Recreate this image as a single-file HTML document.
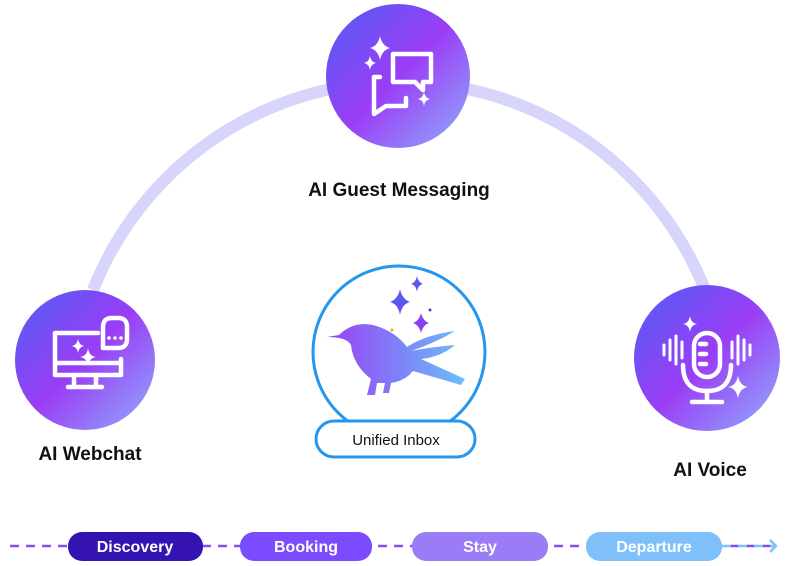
<!DOCTYPE html>
<html><head><meta charset="utf-8"><style>
body{margin:0;width:800px;height:561px;background:#fff;overflow:hidden;font-family:"Liberation Sans",sans-serif}
</style></head><body>
<svg width="800" height="561" viewBox="0 0 800 561" xmlns="http://www.w3.org/2000/svg">
<defs>
<linearGradient id="g" x1="0" y1="0" x2="1" y2="1">
<stop offset="0" stop-color="#4f5ff4"/><stop offset="0.5" stop-color="#9a3df6"/><stop offset="1" stop-color="#8fb0fb"/>
</linearGradient>
<linearGradient id="bird" x1="0" y1="0" x2="1" y2="0">
<stop offset="0" stop-color="#9a3ff5"/><stop offset="0.6" stop-color="#7a8cf8"/><stop offset="1" stop-color="#6cc0fb"/>
</linearGradient>
</defs>
<path d="M93,290 A329,329 0 0 1 705,290" fill="none" stroke="#d8d5fb" stroke-width="12"/>
<!-- top -->
<circle cx="398" cy="76" r="72" fill="url(#g)"/>
<g fill="none" stroke="#fff" stroke-width="4.5" stroke-linejoin="round" stroke-linecap="round">
<path d="M393,54 h38 v28 h-8 v8 l-8,-8 h-22 z"/>
<path d="M380,77 h-6 v37 l12,-8 h20 v-8"/>
</g>
<g fill="#fff">
<path d="M380,36 q2,10 10,12 q-8,2 -10,12 q-2,-10 -10,-12 q8,-2 10,-12z"/>
<path d="M370,56 q1,6 6,7 q-5,1 -6,7 q-1,-6 -6,-7 q5,-1 6,-7z"/>
<path d="M424,92 q1,6 6,7 q-5,1 -6,7 q-1,-6 -6,-7 q5,-1 6,-7z"/>
</g>
<text x="399" y="196" text-anchor="middle" font-size="19" font-weight="bold" fill="#111">AI Guest Messaging</text>
<!-- left -->
<circle cx="85" cy="360" r="70" fill="url(#g)"/>
<g fill="none" stroke="#fff" stroke-width="4.5" stroke-linejoin="round" stroke-linecap="round">
<path d="M98,333 h-43 v42 h66 v-16"/>
<path d="M55,363 h66"/>
<path d="M74,375 v10 M96,375 v10 M68,387 h34"/>
<path d="M103,327 q0,-9 9,-9 h6 q9,0 9,9 v12 q0,9 -9,9 h-15 z"/>
</g>
<g fill="#fff">
<circle cx="109" cy="338" r="1.8"/><circle cx="115" cy="338" r="1.8"/><circle cx="121" cy="338" r="1.8"/>
<path d="M78,339 q1,6 6,7 q-5,1 -6,7 q-1,-6 -6,-7 q5,-1 6,-7z"/>
<path d="M88,348 q1,8 8,9 q-7,1 -8,9 q-1,-8 -8,-9 q7,-1 8,-9z"/>
</g>
<text x="90" y="460" text-anchor="middle" font-size="19" font-weight="bold" fill="#111">AI Webchat</text>
<!-- right -->
<circle cx="707" cy="358" r="73" fill="url(#g)"/>
<g fill="none" stroke="#fff" stroke-width="4.5" stroke-linecap="round">
<rect x="694" y="333" width="26" height="44" rx="13"/>
<path d="M683,365 q0,26 24,26 q24,0 24,-26"/>
<path d="M707,391 v10 M692,402 h30"/>
<path d="M700,344 h6 M700,354 h6 M700,364 h6"/>
</g>
<g stroke="#fff" stroke-width="3" stroke-linecap="round">
<path d="M664,345 v10 M670,340 v20 M676,336 v28 M682,342 v16 M732,342 v16 M738,336 v28 M744,340 v20 M750,345 v10"/>
</g>
<g fill="#fff">
<path d="M690,316 q1,7 7,8 q-6,1 -7,8 q-1,-7 -7,-8 q6,-1 7,-8z"/>
<path d="M738,376 q2,10 10,11 q-8,1 -10,11 q-2,-10 -10,-11 q8,-1 10,-11z"/>
</g>
<text x="710" y="476" text-anchor="middle" font-size="19" font-weight="bold" fill="#111">AI Voice</text>
<!-- center -->
<circle cx="399" cy="352" r="86" fill="#fff" stroke="#2396f0" stroke-width="3"/>
<path d="M327,337 l12,-2 q14,-14 34,-10 q22,6 34,22 q18,-12 48,-16 q-20,12 -44,20 q20,-4 44,-6 q-14,12 -34,14 l44,20 l-4,6 l-48,-14 q-8,10 -22,12 l-2,10 l-6,0 l2,-10 l-8,0 l-2,12 l-8,0 l4,-16 q-18,-14 -20,-34 q-4,-8 -24,-8z" fill="url(#bird)"/>
<g fill="#5b58f0">
<path d="M400,289 q2,10 10,13 q-8,2 -10,13 q-2,-11 -10,-13 q8,-3 10,-13z"/>
<path d="M417,276 q1,6 6,8 q-5,1 -6,8 q-1,-7 -6,-8 q5,-2 6,-8z"/>
</g>
<path d="M421,313 q2,8 8,10 q-6,2 -8,10 q-2,-8 -8,-10 q6,-2 8,-10z" fill="#8a3ff0"/>
<circle cx="430" cy="310" r="1.5" fill="#4a3fd0"/>
<circle cx="392" cy="330" r="1.5" fill="#f0b000"/>
<rect x="316" y="421" width="159" height="36" rx="18" fill="#fff" stroke="#2396f0" stroke-width="3"/>
<text x="396" y="445" text-anchor="middle" font-size="15" fill="#111">Unified Inbox</text>
<!-- timeline -->
<line x1="10" y1="546" x2="775" y2="546" stroke="#8a4cf0" stroke-width="2.5" stroke-dasharray="9,7"/>
<line x1="722" y1="546" x2="775" y2="546" stroke="#7fc0fb" stroke-width="2.5" stroke-dasharray="9,7"/>
<path d="M770,540 l6,6 l-6,6" fill="none" stroke="#7fc0fb" stroke-width="2.5"/>
<rect x="68" y="532" width="135" height="29" rx="14" fill="#3413b0"/>
<rect x="240" y="532" width="132" height="29" rx="14" fill="#7b4cff"/>
<rect x="412" y="532" width="136" height="29" rx="14" fill="#9a7cf6"/>
<rect x="586" y="532" width="136" height="29" rx="14" fill="#7fc0fb"/>
<g font-size="16" font-weight="bold" fill="#fff" text-anchor="middle">
<text x="135" y="552">Discovery</text>
<text x="306" y="552">Booking</text>
<text x="480" y="552">Stay</text>
<text x="654" y="552">Departure</text>
</g>
</svg>
</body></html>
